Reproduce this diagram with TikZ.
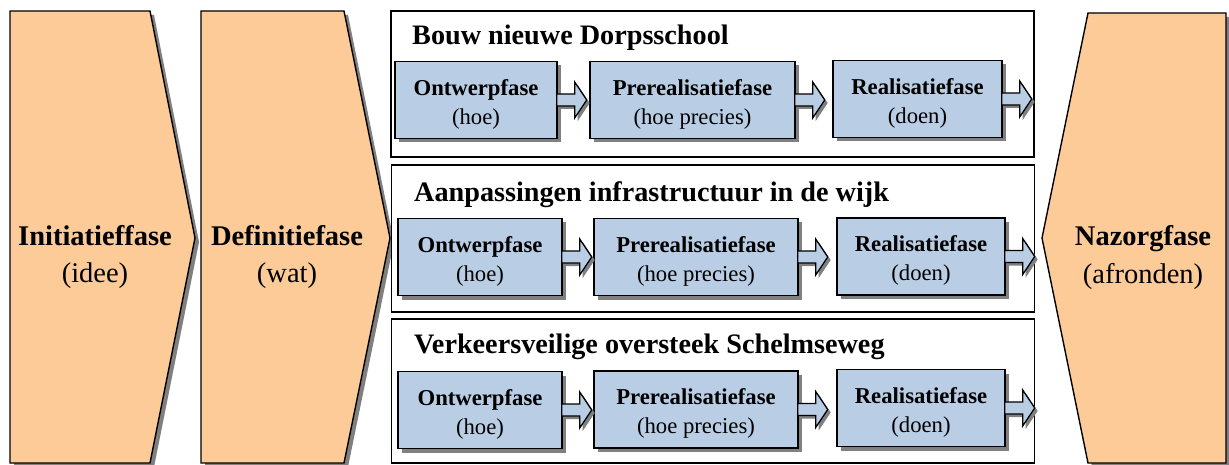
\documentclass[tikz,border=0pt]{standalone}
\usepackage{fontspec}
\setmainfont{Liberation Serif}
\usetikzlibrary{shadows}
\definecolor{orangefill}{RGB}{252,203,152}
\definecolor{bluefill}{RGB}{185,205,228}
\definecolor{shadowgray}{RGB}{128,128,128}
\tikzset{
  shad/.style={drop shadow={shadow xshift=4pt, shadow yshift=-4pt, fill=shadowgray, opacity=1}},
  chev/.style={draw=black, line width=1.4pt, fill=orangefill, line join=miter, shad},
  chevtext/.style={align=center, font=\fontsize{28.5}{38}\selectfont},
  frame/.style={draw=black, line width=1.3pt, fill=white, inner sep=0pt},
  phasebox/.style={draw=black, line width=1.4pt, fill=bluefill, shad, inner sep=0pt,
    minimum height=77pt},
  phasetext/.style={align=center, inner sep=0pt, font=\fontsize{22.7}{29}\selectfont},
  titletext/.style={anchor=base west, inner sep=0pt, font=\fontsize{28.2}{30}\selectfont\bfseries},
  barrow/.style={draw=black, line width=1.3pt, fill=bluefill, line join=miter,
    drop shadow={shadow xshift=3pt, shadow yshift=-3pt, fill=shadowgray, opacity=1}},
}
\newcommand\blockarrow[1]{%
  \filldraw[barrow] (#1.east) ++(-1,-6) -- ++(18,0) -- ++(0,-12) -- ++(12,18)
    -- ++(-12,18) -- ++(0,-12) -- ++(-18,0) -- cycle;}
% #1 name, #2 x, #3 y, #4 width, #5 bold line, #6 regular line
\newcommand\phase[6]{%
  \node[phasebox, minimum width=#4pt] (#1) at (#2,#3) {};
  \node[phasetext] (#1t) at ([yshift=-4pt]#1.center) {\textbf{#5}\\#6};}
\begin{document}
\begin{tikzpicture}[x=1pt,y=-1pt]
\useasboundingbox (0,0) rectangle (1229,465);
% chevrons
\filldraw[chev] (10,11) -- (150,11) -- (195,238) -- (150,463) -- (10,463) -- cycle;
\node[chevtext] (init) at (95,257) {\textbf{Initiatieffase}\\(idee)};
\filldraw[chev] (201,11) -- (344,11) -- (390,238) -- (344,463) -- (201,463) -- cycle;
\node[chevtext] (defi) at (287,257) {\textbf{Definitiefase}\\(wat)};
\filldraw[chev] (1226,13) -- (1088,13) -- (1042,238) -- (1088,463) -- (1226,463) -- cycle;
\node[chevtext] (nazo) at (1143,258) {\textbf{Nazorgfase}\\(afronden)};
% frames
\node[frame, minimum width=643pt, minimum height=146pt] (f1) at (712.5,84) {};
\node[frame, minimum width=643pt, minimum height=147pt] (f2) at (713,238.5) {};
\node[frame, minimum width=643pt, minimum height=144pt] (f3) at (713,391) {};
\node[titletext] (t1) at (412,45) {Bouw nieuwe Dorpsschool};
\node[titletext] (t2) at (414,202) {Aanpassingen infrastructuur in de wijk};
\node[titletext] (t3) at (414,353) {Verkeersveilige oversteek Schelmseweg};
% row 1
\phase{o1}{476}{100}{162}{Ontwerpfase}{(hoe)}
\phase{p1}{692.5}{100}{205}{Prerealisatiefase}{(hoe precies)}
\phase{r1}{917.5}{99}{169}{Realisatiefase}{(doen)}
% row 2
\phase{o2}{480}{257}{164}{Ontwerpfase}{(hoe)}
\phase{p2}{696}{257}{204}{Prerealisatiefase}{(hoe precies)}
\phase{r2}{921}{256.5}{168}{Realisatiefase}{(doen)}
% row 3
\phase{o3}{480}{410}{164}{Ontwerpfase}{(hoe)}
\phase{p3}{696}{409.5}{204}{Prerealisatiefase}{(hoe precies)}
\phase{r3}{921}{408}{168}{Realisatiefase}{(doen)}
% block arrows
\blockarrow{o1}\blockarrow{p1}\blockarrow{r1}
\blockarrow{o2}\blockarrow{p2}\blockarrow{r2}
\blockarrow{o3}\blockarrow{p3}\blockarrow{r3}
\end{tikzpicture}
\end{document}
